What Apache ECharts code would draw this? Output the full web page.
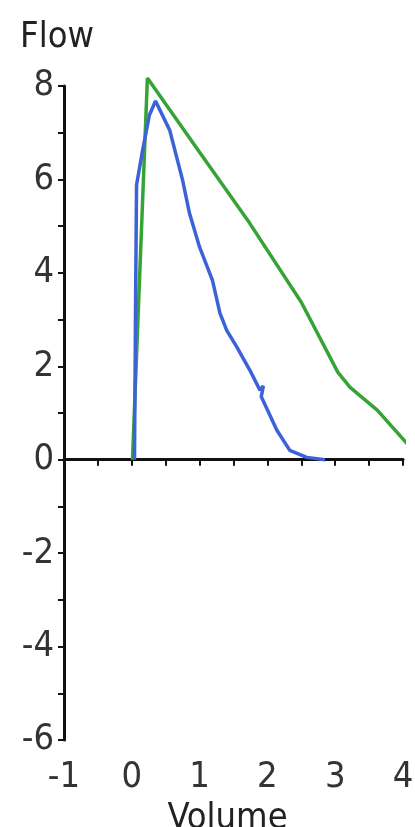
<!DOCTYPE html>
<html>
<head>
<meta charset="utf-8">
<script src="https://cdn.jsdelivr.net/npm/echarts@6/dist/echarts.min.js"></script>
<style>
html,body{margin:0;padding:0;background:#fff;}
#chart{width:415px;height:827px;}
</style>
</head>
<body>
<div id="chart"></div>
<script>
// Axis definitions
var xMin = -1, xMax = 4;
var yMin = -6, yMax = 8;
var xTickLabels = ['-1', '0', '1', '2', '3', '4'];
var yTickLabels = ['-6', '-4', '-2', '0', '2', '4', '6', '8'];

// Series: blue measured curve [volume, flow]
var blueVolume = [0.04, 0.056, 0.07, 0.16, 0.26, 0.35, 0.56, 0.75, 0.85, 1.0, 1.19, 1.30, 1.40, 1.55, 1.74, 1.89, 1.94, 1.91, 2.14, 2.33, 2.58, 2.85];
var blueFlow   = [0,    3.42,  5.88, 6.63, 7.38, 7.68, 7.05, 5.98, 5.28, 4.55, 3.84, 3.14, 2.77, 2.41, 1.92, 1.49, 1.58, 1.35, 0.63, 0.20, 0.05, 0.0];

// Series: green predicted curve [volume, flow]
var greenVolume = [0.01, 0.23, 1.0, 1.74, 2.5, 3.04, 3.22, 3.62, 4.15];
var greenFlow   = [0,    8.17, 6.58, 5.06, 3.37, 1.87, 1.55, 1.06, 0.2];

function pairs(xs, ys) { return xs.map(function (x, i) { return [x, ys[i]]; }); }

var FONT = "'Liberation Sans Narrow', 'DejaVu Sans Condensed', 'Liberation Sans', sans-serif";
var chart = echarts.init(document.getElementById('chart'), null, {renderer: 'canvas'});
chart.setOption({
  animation: false,
  backgroundColor: '#ffffff',
  grid: {left: 64, right: 12, top: 86, bottom: 87, outerBoundsMode: 'none', containLabel: false},
  xAxis: [{
    type: 'value', min: xMin, max: xMax, interval: 0.5,
    axisLine: {show: true, onZero: true, lineStyle: {color: '#111', width: 3}},
    axisTick: {show: true, length: 6, lineStyle: {color: '#111', width: 2}},
    axisLabel: {show: false},
    splitLine: {show: false}
  }, {
    type: 'value', min: xMin, max: xMax, interval: 1, position: 'bottom',
    axisLine: {show: false, onZero: false},
    axisTick: {show: false},
    splitLine: {show: false},
    axisLabel: {show: true, margin: 20, color: '#333', fontFamily: FONT, fontSize: 36,
      formatter: function (v) { var i = Math.round(v - xMin); return xTickLabels[i]; }},
    name: 'Volume', nameLocation: 'middle', nameGap: 50,
    nameTextStyle: {color: '#222', fontFamily: FONT, fontSize: 36, padding: [0, 12, 0, 0]}
  }],
  yAxis: {
    type: 'value', min: yMin, max: yMax, interval: 1,
    axisLine: {show: true, onZero: false, lineStyle: {color: '#111', width: 3}},
    axisTick: {show: true, length: 6, lineStyle: {color: '#111', width: 2}},
    splitLine: {show: false},
    axisLabel: {show: true, margin: 10, color: '#333', fontFamily: FONT, fontSize: 36,
      formatter: function (v) { var i = (v - yMin) / 2; return (Math.round(v) % 2 === 0) ? yTickLabels[i] : ''; }},
    name: 'Flow', nameLocation: 'end', nameGap: 30,
    nameTextStyle: {color: '#222', fontFamily: FONT, fontSize: 36, align: 'center', padding: [0, 14, 0, 0]}
  },
  series: [{
    type: 'line', name: 'predicted', xAxisIndex: 0, data: pairs(greenVolume, greenFlow),
    showSymbol: false, symbol: 'none', clip: false,
    lineStyle: {color: '#36a336', width: 3.5}, z: 2
  }, {
    type: 'line', name: 'measured', xAxisIndex: 0, data: pairs(blueVolume, blueFlow),
    showSymbol: false, symbol: 'none', clip: false,
    lineStyle: {color: '#3b62d6', width: 3.5}, z: 3
  }]
});
</script>
</body>
</html>
